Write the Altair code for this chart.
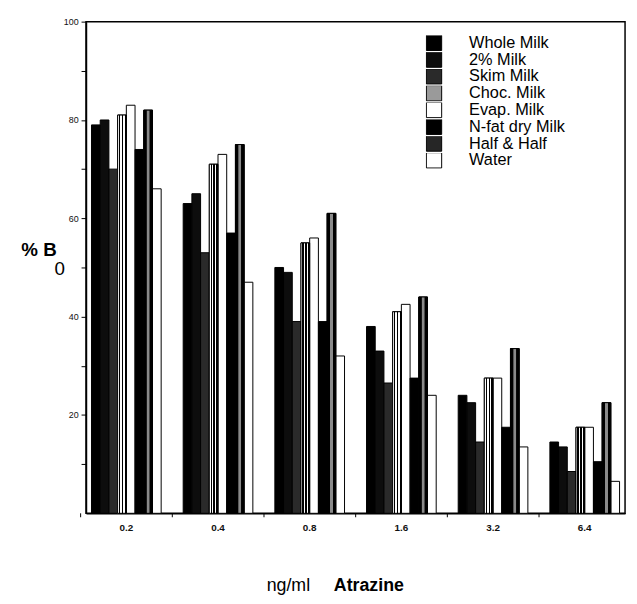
import altair as alt
import pandas as pd

groups = ["0.2", "0.4", "0.8", "1.6", "3.2", "6.4"]
series = ["Whole Milk", "2% Milk", "Skim Milk", "Choc. Milk", "Evap. Milk",
          "N-fat dry Milk", "Half & Half", "Water"]

whole = [79, 63, 50, 38, 24, 14.5]
two_pct = [80, 65, 49, 33, 22.5, 13.5]
skim = [70, 53, 39, 26.5, 14.5, 8.5]
choc = [81, 71, 55, 41, 27.5, 17.5]
evap = [83, 73, 56, 42.5, 27.5, 17.5]
nfat = [74, 57, 39, 27.5, 17.5, 10.5]
half = [82, 75, 61, 44, 33.5, 22.5]
water = [66, 47, 32, 24, 13.5, 6.5]

y_ticks = [10, 20, 30, 40, 50, 60, 70, 80, 90, 100]
y_min, y_max = 0, 100

all_vals = [whole, two_pct, skim, choc, evap, nfat, half, water]
rows = []
for s, vals in zip(series, all_vals):
    for g, v in zip(groups, vals):
        rows.append({"group": g, "series": s, "value": v})
df = pd.DataFrame(rows)

fills = ["#000000", "#0d0d0d", "#2a2a2a", "#9a9a9a", "#ffffff", "#000000", "#262626", "#ffffff"]

W, H = 546, 498

x_scale = alt.Scale(domain=groups, paddingInner=0.24, paddingOuter=0.06)
y_scale = alt.Scale(domain=[y_min, y_max], nice=False)
x_enc = alt.X("group:N", sort=groups, scale=x_scale,
              axis=alt.Axis(title=None, labelAngle=0, ticks=False, labelFontSize=10,
                            labelFontWeight="bold", labelPadding=9, labelColor="#111",
                            domainColor="black", domainWidth=1.5))
xo_enc = alt.XOffset("series:N", sort=series,
                     scale=alt.Scale(domain=series, paddingInner=0, paddingOuter=0))
y_enc = alt.Y("value:Q", scale=y_scale,
              axis=alt.Axis(title="% B", titleAngle=0, titleFontSize=19, titleFontWeight="bold",
                            titleX=-66, titleY=237, titleAlign="left", titleBaseline="alphabetic",
                            titleColor="black",
                            values=y_ticks, labelExpr="datum.value % 20 == 0 ? datum.label : ''",
                            labelFontSize=9, labelColor="#111", tickSize=5, tickColor="black",
                            labelPadding=3, grid=False, domainColor="black", domainWidth=1.5))

base = alt.Chart(df).mark_bar(stroke="black", strokeWidth=1).encode(
    x=x_enc, xOffset=xo_enc, y=y_enc,
    color=alt.Color("series:N", sort=series,
                    scale=alt.Scale(domain=series, range=fills),
                    legend=alt.Legend(title=None, orient="none", legendX=344, legendY=14,
                                      symbolType="square", symbolSize=240,
                                      symbolStrokeColor="black", symbolStrokeWidth=1,
                                      labelFontSize=16.5, labelFont="Liberation Sans",
                                      labelColor="black", labelOffset=27, rowPadding=0,
                                      clipHeight=15, padding=0)),
)

hatch = alt.LinearGradient(
    gradient="linear", x1=0, y1=0, x2=1, y2=0,
    stops=[
        alt.GradientStop(color="#ffffff", offset=0),
        alt.GradientStop(color="#ffffff", offset=0.15),
        alt.GradientStop(color="#000000", offset=0.15),
        alt.GradientStop(color="#000000", offset=0.32),
        alt.GradientStop(color="#ffffff", offset=0.32),
        alt.GradientStop(color="#ffffff", offset=0.48),
        alt.GradientStop(color="#000000", offset=0.48),
        alt.GradientStop(color="#000000", offset=0.65),
        alt.GradientStop(color="#ffffff", offset=0.65),
        alt.GradientStop(color="#ffffff", offset=0.82),
        alt.GradientStop(color="#000000", offset=0.82),
        alt.GradientStop(color="#000000", offset=1),
    ])

lined = alt.LinearGradient(
    gradient="linear", x1=0, y1=0, x2=1, y2=0,
    stops=[
        alt.GradientStop(color="#000000", offset=0),
        alt.GradientStop(color="#000000", offset=0.3),
        alt.GradientStop(color="#8a8a8a", offset=0.38),
        alt.GradientStop(color="#8a8a8a", offset=0.62),
        alt.GradientStop(color="#000000", offset=0.7),
        alt.GradientStop(color="#000000", offset=1),
    ])

choc_layer = alt.Chart(df).transform_filter(alt.datum.series == "Choc. Milk").mark_bar(
    fill=hatch, stroke="black", strokeWidth=1).encode(x=x_enc, xOffset=xo_enc, y=y_enc)
half_layer = alt.Chart(df).transform_filter(alt.datum.series == "Half & Half").mark_bar(
    fill=lined, stroke="black", strokeWidth=1).encode(x=x_enc, xOffset=xo_enc, y=y_enc)

tick_df = pd.DataFrame({"group": groups})
ticks = alt.Chart(tick_df).mark_rule(color="black", strokeWidth=1, xOffset=-11).encode(
    x=alt.X("group:N", sort=groups, bandPosition=0, scale=x_scale),
    y=alt.value(H), y2=alt.value(H + 4),
)

sub_df = pd.DataFrame({"t": ["0"]})
sub = alt.Chart(sub_df).mark_text(fontSize=19, font="Liberation Sans", align="left",
                                  baseline="alphabetic", color="black").encode(
    text="t:N", x=alt.value(-32), y=alt.value(257))

t1 = alt.Chart(pd.DataFrame({"t": ["ng/ml"]})).mark_text(
    fontSize=18, font="Liberation Sans", align="left", baseline="alphabetic", color="black").encode(
    text="t:N", x=alt.value(183), y=alt.value(577))
t2 = alt.Chart(pd.DataFrame({"t": ["Atrazine"]})).mark_text(
    fontSize=18, font="Liberation Sans", fontWeight="bold", align="left", baseline="alphabetic",
    color="black").encode(text="t:N", x=alt.value(251), y=alt.value(577))

chart = alt.layer(base, choc_layer, half_layer, ticks, sub, t1, t2).properties(
    width=W, height=H,
    autosize=alt.AutoSizeParams(type="none"),
    padding={"left": 79, "top": 10, "right": 4, "bottom": 84},
).configure(background="white", font="Liberation Sans").configure_view(
    stroke="black", strokeWidth=1.5)

chart.save("out.html", embed_options={"renderer": "svg", "actions": False})
